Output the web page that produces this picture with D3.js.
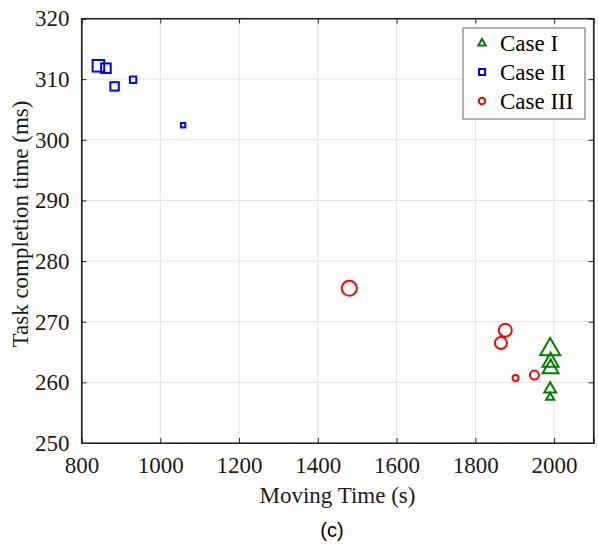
<!DOCTYPE html>
<html>
<head>
<meta charset="utf-8">
<script src="https://cdn.jsdelivr.net/npm/d3@7"></script>
<style>
  html, body { margin: 0; padding: 0; background: #fff; }
  svg { display: block; }
  .serif { font-family: 'Liberation Serif', 'Times New Roman', serif; }
</style>
</head>
<body>
<svg id="chart" width="598" height="550"></svg>
<script>
// ---- data ----
const seriesNames = ["Case I", "Case II", "Case III"];
const xTicks = [800, 1000, 1200, 1400, 1600, 1800, 2000];
const yTicks = [250, 260, 270, 280, 290, 300, 310, 320];

// Case I (triangles)
const case1X = [1990, 1991, 1991, 1990, 1990];
const case1Y = [265.6, 263.5, 262.4, 259.0, 257.6];
const case1W = [10, 8, 8, 6, 4];

// Case II (squares)
const case2X = [843, 862, 884, 931, 1058];
const case2Y = [312.2, 311.8, 308.8, 309.9, 302.4];
const case2W = [6.8, 5.8, 5.2, 4.2, 3.2];

// Case III (circles)
const case3X = [1480, 1876, 1865, 1902, 1950];
const case3Y = [275.5, 268.6, 266.5, 260.7, 261.2];
const case3W = [8.5, 7.5, 7, 4, 5.5];

// ---- layout ----
const svg = d3.select("#chart");
const L = 81.5, T = 18.5, R = 593.5, B = 443;
const x = d3.scaleLinear().domain([800, 2100]).range([L, R]);
const y = d3.scaleLinear().domain([250, 320]).range([B, T]);
const size = d3.scaleLinear().domain([0, 10]).range([0, 20]);
const serif = "'Liberation Serif', 'Times New Roman', serif";

// grid
const grid = svg.append("g");
grid.selectAll("line.gx").data(xTicks.filter(d => d > 800)).join("line")
  .attr("x1", d => x(d)).attr("x2", d => x(d)).attr("y1", T).attr("y2", B)
  .attr("stroke", "#e3e3e3").attr("stroke-width", 1);
grid.selectAll("line.gy").data(yTicks.filter(d => d > 250 && d < 320)).join("line")
  .attr("x1", L).attr("x2", R).attr("y1", d => y(d)).attr("y2", d => y(d))
  .attr("stroke", "#e3e3e3").attr("stroke-width", 1);

// axes
const axColor = "#262626";
const xAxis = svg.append("g").attr("transform", `translate(0,${B})`)
  .call(d3.axisBottom(x).tickValues(xTicks).tickSize(-5).tickPadding(14).tickFormat(d3.format("d")));
const xAxisTop = svg.append("g").attr("transform", `translate(0,${T})`)
  .call(d3.axisTop(x).tickValues(xTicks).tickSize(-5).tickFormat(""));
const yAxis = svg.append("g").attr("transform", `translate(${L},0)`)
  .call(d3.axisLeft(y).tickValues(yTicks).tickSize(-5).tickPadding(12).tickFormat(d3.format("d")));
const yAxisRight = svg.append("g").attr("transform", `translate(${R},0)`)
  .call(d3.axisRight(y).tickValues(yTicks).tickSize(-5).tickFormat(""));
[xAxis, xAxisTop, yAxis, yAxisRight].forEach(g => {
  g.attr("font-family", serif).attr("font-size", 23);
  g.select(".domain").attr("stroke", axColor).attr("stroke-width", 1.2);
  g.selectAll(".tick line").attr("stroke", axColor).attr("stroke-width", 1);
  g.selectAll(".tick text").attr("fill", "#1a1a1a")
    .style("font-family", serif).style("font-size", "23px");
});
svg.append("rect").attr("x", L).attr("y", T).attr("width", R - L).attr("height", B - T)
  .attr("fill", "none").attr("stroke", axColor).attr("stroke-width", 1.2);

// axis labels
svg.append("text").attr("x", (L + R) / 2).attr("y", 503).attr("text-anchor", "middle")
  .style("font-family", serif).style("font-size", "23px").attr("fill", "#1a1a1a").text("Moving Time (s)");
svg.append("text").attr("transform", `translate(28,224) rotate(-90)`).attr("text-anchor", "middle")
  .style("font-family", serif).style("font-size", "23px").attr("fill", "#1a1a1a").text("Task completion time (ms)");
svg.append("text").attr("x", 332).attr("y", 537).attr("text-anchor", "middle")
  .style("font-family", "'Liberation Sans', Arial, sans-serif").style("font-size", "20px").attr("fill", "#000").text("(c)");

// markers
const colors = ["#008000", "#0000ff", "#ff0000"];
function triPath(s) {
  const h = s * 0.866;
  return `M0,${-h * 0.6}L${s / 2},${h * 0.4}L${-s / 2},${h * 0.4}Z`;
}
const pts1 = case1X.map((v, i) => ({ x: v, y: case1Y[i], w: case1W[i] }));
const pts2 = case2X.map((v, i) => ({ x: v, y: case2Y[i], w: case2W[i] }));
const pts3 = case3X.map((v, i) => ({ x: v, y: case3Y[i], w: case3W[i] }));
const mk = svg.append("g");
mk.selectAll("path.c1").data(pts1).join("path")
  .attr("transform", d => `translate(${x(d.x)},${y(d.y)})`)
  .attr("d", d => triPath(size(d.w)))
  .attr("fill", "none").attr("stroke", colors[0]).attr("stroke-width", 2);
mk.selectAll("rect.c2").data(pts2).join("rect")
  .attr("x", d => x(d.x) - (size(d.w) - 2) / 2).attr("y", d => y(d.y) - (size(d.w) - 2) / 2)
  .attr("width", d => size(d.w) - 2).attr("height", d => size(d.w) - 2)
  .attr("fill", "none").attr("stroke", colors[1]).attr("stroke-width", 2);
mk.selectAll("circle.c3").data(pts3).join("circle")
  .attr("cx", d => x(d.x)).attr("cy", d => y(d.y)).attr("r", d => (size(d.w) - 2) / 2)
  .attr("fill", "none").attr("stroke", colors[2]).attr("stroke-width", 2);

// legend
const lg = svg.append("g");
lg.append("rect").attr("x", 463).attr("y", 28).attr("width", 122).attr("height", 91)
  .attr("fill", "#fff").attr("stroke", "#7f7f7f").attr("stroke-width", 1.2);
const rowY = [43, 72, 101];
seriesNames.forEach((name, i) => {
  const cx = 482, cy = rowY[i];
  if (i === 0) {
    lg.append("path").attr("transform", `translate(${cx},${cy})`).attr("d", triPath(7.5))
      .attr("fill", "none").attr("stroke", colors[0]).attr("stroke-width", 2);
  } else if (i === 1) {
    lg.append("rect").attr("x", cx - 3).attr("y", cy - 3).attr("width", 6).attr("height", 6)
      .attr("fill", "none").attr("stroke", colors[1]).attr("stroke-width", 2);
  } else {
    lg.append("circle").attr("cx", cx).attr("cy", cy).attr("r", 3.2)
      .attr("fill", "none").attr("stroke", colors[2]).attr("stroke-width", 2);
  }
  lg.append("text").attr("x", 500).attr("y", cy).attr("dy", "0.35em")
    .style("font-family", serif).style("font-size", "23px").attr("fill", "#000").text(name);
});
</script>
</body>
</html>
